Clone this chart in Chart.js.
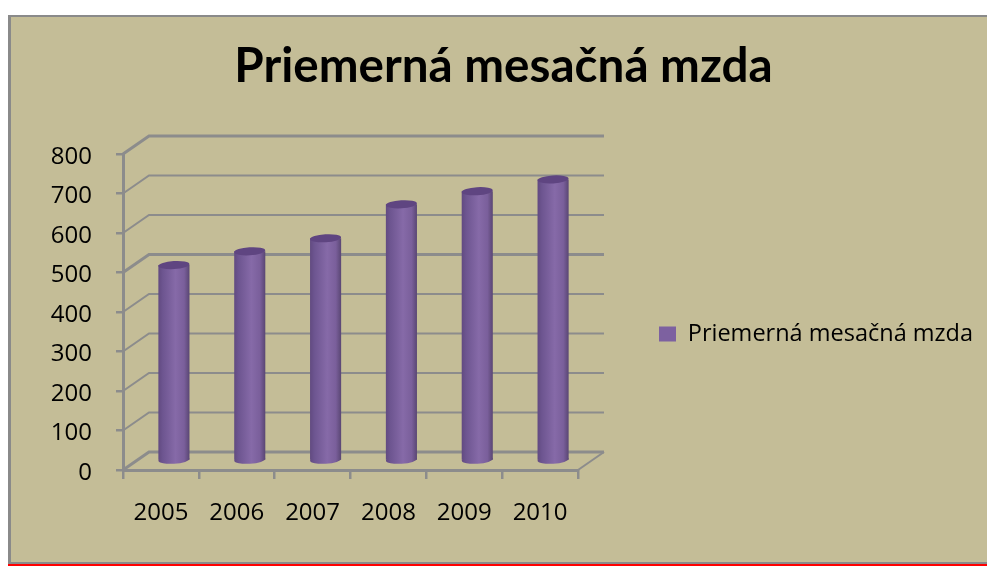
<!DOCTYPE html>
<html><head><meta charset="utf-8">
<style>
html,body{margin:0;padding:0;background:#fff;overflow:hidden}
#panel{position:absolute;left:8px;top:15px;width:976px;height:545px;background:#c4bd97;border-left:3px solid #8a8a8a;border-top:2px solid #8a8a8a;border-bottom:2px solid #8a8a8a;}
#strip{position:absolute;left:8px;top:564px;width:979px;height:2px;background:#f00}
#panelR{position:absolute;left:984px;top:15px;width:3px;height:549px;background:#c4bd97;border-top:2px solid #8a8a8a;border-bottom:2px solid #8a8a8a;box-sizing:border-box}
#wrap{position:absolute;left:0;top:0;width:987px;height:566px}
</style>
<script src="https://cdn.jsdelivr.net/npm/chart.js@4"></script>
</head><body>
<div id="panel"></div><div id="panelR"></div><div id="strip"></div>
<div id="wrap"><canvas id="c" width="987" height="566"></canvas></div>
<script>
const chartTitle = 'Priemerná mesačná mzda';
const years = ['2005','2006','2007','2008','2009','2010'];
const wages = [496,531,564,650,683,713];
const seriesName = 'Priemerná mesačná mzda';
const fontFam = '"Open Sans", sans-serif';
const gridCol = '#8c8c8c';
const thickLines = [800,500,0];
const depthX = 26, depthY = 18;

function barFill(ctx){
  const ch = ctx.chart;
  if (ctx.type !== 'data' || !ch.scales.x) return '#8064a2';
  const x = ch.scales.x.getPixelForValue(ctx.dataIndex);
  const g = ch.ctx.createLinearGradient(x-16,0,x+16,0);
  g.addColorStop(0,'#60497f'); g.addColorStop(0.15,'#6d5590');
  g.addColorStop(0.55,'#866aa8'); g.addColorStop(0.82,'#7a5f9b');
  g.addColorStop(1,'#574470');
  return g;
}

const walls = {
  id:'walls',
  beforeDatasetsDraw(chart){
    const {ctx,scales:{y},chartArea:a} = chart;
    ctx.save(); ctx.strokeStyle=gridCol;
    y.ticks.forEach(t=>{
      const py=y.getPixelForValue(t.value);
      ctx.lineWidth=thickLines.includes(t.value)?3:2;
      ctx.beginPath(); ctx.moveTo(a.left,py);
      ctx.lineTo(a.left+depthX,py-depthY); ctx.lineTo(a.right+depthX,py-depthY); ctx.stroke();
    });
    ctx.lineWidth=2;
    ctx.beginPath(); ctx.moveTo(a.right,a.bottom); ctx.lineTo(a.right+depthX,a.bottom-depthY); ctx.stroke();
    ctx.restore();
    ctx.save(); ctx.translate(depthX/2,-depthY/2);
    chart.getDatasetMeta(0).data.forEach(b=>{
      ctx.fillStyle=b.options.backgroundColor;
      ctx.beginPath(); ctx.ellipse(b.x,b.base,b.width/2,4,-0.06,0,Math.PI*2); ctx.fill();
    });
  },
  afterDatasetsDraw(chart){
    const {ctx}=chart;
    chart.getDatasetMeta(0).data.forEach(b=>{
      ctx.fillStyle='#5f4581';
      ctx.beginPath(); ctx.ellipse(b.x,b.y,b.width/2,4,-0.06,0,Math.PI*2); ctx.fill();
    });
    ctx.restore();
  },
  afterLayout(chart){
    const l=chart.legend;
    l.left=649; l.right=987; l.top+=51; l.bottom+=51;
    chart.titleBlock.left=0; chart.titleBlock.right=1007;
    chart.scales.y.getLabelItems().forEach(i=>{i.options.translation[1]+=3;});
  }
};

new Chart(document.getElementById('c'),{
  type:'bar',
  plugins:[walls],
  data:{labels:years,datasets:[{label:seriesName,data:wages,backgroundColor:barFill,barPercentage:0.41,categoryPercentage:1,borderWidth:0}]},
  options:{
    responsive:false,animation:false,
    layout:{padding:{left:0,right:75,top:0,bottom:0}},
    plugins:{
      title:{display:true,text:chartTitle,color:'#000',font:{family:'Lato, sans-serif',size:47.6,weight:'bold',lineHeight:1.2},padding:{top:38,bottom:58.9},fullSize:true},
      legend:{position:'right',maxWidth:409,
        labels:{color:'#000',font:{family:fontFam,size:23.5},boxWidth:17,boxHeight:15,padding:10,
          generateLabels(ch){return [{text:seriesName,fillStyle:'#7d61a0',strokeStyle:'#7d61a0',lineWidth:0,datasetIndex:0}];}}},
      tooltip:{enabled:false}
    },
    scales:{
      x:{grid:{drawOnChartArea:false,color:gridCol,lineWidth:2.5,tickLength:9,offset:true},
         border:{color:gridCol,width:3},
         ticks:{color:'#000',font:{family:fontFam,size:24},padding:20,maxRotation:0},
         afterFit(s){s.height=96;}},
      y:{min:0,max:800,
         grid:{drawOnChartArea:false,color:gridCol,lineWidth:2.5,tickLength:7},
         border:{color:gridCol,width:3},
         ticks:{stepSize:100,color:'#000',font:{family:fontFam,size:24},padding:24},
         afterFit(s){s.width=123;}}
    }
  }
});
</script>
</body></html>
